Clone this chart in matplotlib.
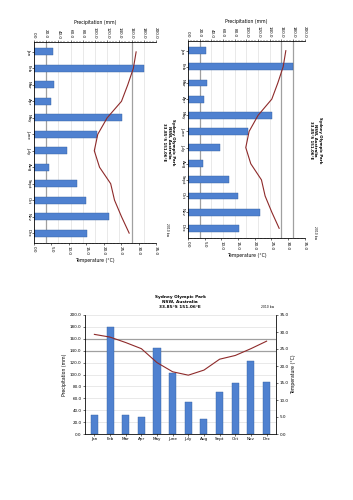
import numpy as np
import matplotlib
matplotlib.use('Agg')
import matplotlib.pyplot as plt
from matplotlib.ticker import MultipleLocator

# Climate data (Sydney Olympic Park)
months = ['Jan', 'Feb', 'Mar', 'Apr', 'May', 'June',
          'July', 'Aug', 'Sept', 'Oct', 'Nov', 'Dec']
precip = [31.5, 180.5, 32.5, 28.0, 144.5, 103.0,
          54.5, 25.0, 71.0, 85.5, 123.0, 87.0]
temp = [29.3, 28.5, 26.9, 25.1, 21.0, 18.3,
        17.3, 18.8, 22.0, 23.1, 25.1, 27.3]
precip_ticks = np.arange(0, 201, 20)
temp_ticks = np.arange(0, 36, 5)

title = 'Sydney Olympic Park\nNSW, Australia\n33.85°S 151.06°E'
note = '2010 bw'

bar_col = '#4F81D0'
edge_col = '#34609F'
line_col = '#8E2A2A'
fs = 3.0

fig = plt.figure(figsize=(3.53, 5.0), dpi=100)
fig.patch.set_facecolor('white')

pos = np.arange(len(months))


def style_ticks(axis):
    axis.tick_params(labelsize=fs, length=1.5, width=0.4, pad=1)


###########################
# ROTATED (sideways) COPY #
###########################
def rotated_chart(rect, title_x, title_y, note_x, note_y, dark):
    ax = fig.add_axes(rect)
    ax2 = ax.twiny()
    for v in precip_ticks:
        ax.axvline(v, color='#a0a0a0' if v in dark else '#d8d8d8',
                   lw=0.9 if v in dark else 0.4, zorder=0)
    ax.barh(pos, precip, height=0.42, color=bar_col, edgecolor=edge_col,
            linewidth=0.3, zorder=2)
    ax.set_xlim(0, 200)
    ax.set_ylim(11.6, -0.6)
    ax.xaxis.tick_top()
    ax.xaxis.set_label_position('top')
    ax.set_xticks(precip_ticks)
    ax.set_xticklabels(['%.1f' % v for v in precip_ticks], rotation=-90)
    ax.xaxis.set_minor_locator(MultipleLocator(5))
    ax.tick_params(axis='x', which='minor', length=0.8, width=0.3)
    ax.set_yticks(pos)
    ax.set_yticklabels(months, rotation=-90, va='center')
    ax.set_xlabel('Precipitation (mm)', fontsize=fs + 0.3, labelpad=2)
    style_ticks(ax)
    ax.spines['right'].set_visible(False)
    for s in ax.spines.values():
        s.set_linewidth(0.4)

    ax2.plot(temp, pos, color=line_col, lw=0.8, zorder=3)
    ax2.set_xlim(0, 35)
    ax2.xaxis.tick_bottom()
    ax2.xaxis.set_label_position('bottom')
    ax2.set_xticks(temp_ticks)
    ax2.set_xticklabels(['%.1f' % v for v in temp_ticks], rotation=-90)
    ax2.xaxis.set_minor_locator(MultipleLocator(1))
    ax2.tick_params(axis='x', which='minor', length=0.8, width=0.3)
    ax2.set_xlabel('Temperature (°C)', fontsize=fs + 0.3, labelpad=2)
    style_ticks(ax2)
    ax2.spines['right'].set_visible(False)
    for s in ax2.spines.values():
        s.set_linewidth(0.4)

    fig.text(title_x, title_y, title, rotation=-90, ha='center', va='center',
             multialignment='center', fontsize=fs - 0.2, fontweight='bold',
             linespacing=1.2)
    fig.text(note_x, note_y, note, rotation=-90, ha='center', va='center',
             fontsize=fs - 0.8)


rotated_chart([0.0963, 0.514, 0.3456, 0.402], 0.478, 0.715, 0.473, 0.54,
              dark=[20, 160])
rotated_chart([0.5326, 0.524, 0.331, 0.394], 0.893, 0.72, 0.893, 0.535,
              dark=[20, 160, 180])

##################
# UPRIGHT CHART  #
##################
ax = fig.add_axes([0.2408, 0.132, 0.541, 0.238])
ax2 = ax.twinx()
for v in precip_ticks:
    ax.axhline(v, color='#a0a0a0' if v in [140, 160] else '#d8d8d8',
               lw=0.9 if v in [140, 160] else 0.4, zorder=0)
ax.bar(pos, precip, width=0.45, color=bar_col, edgecolor=edge_col,
       linewidth=0.3, zorder=2)
ax.set_xlim(-0.6, 11.6)
ax.set_ylim(0, 200)
ax.set_xticks(pos)
ax.set_xticklabels(months)
ax.set_yticks(precip_ticks)
ax.set_yticklabels(['%.1f' % v for v in precip_ticks])
ax.set_ylabel('Precipitation (mm)', fontsize=fs + 0.3, labelpad=2)
style_ticks(ax)
ax.spines['top'].set_visible(False)
for s in ax.spines.values():
    s.set_linewidth(0.4)

ax2.plot(pos, temp, color=line_col, lw=0.8, zorder=3)
ax2.set_ylim(0, 35)
ax2.set_yticks(temp_ticks)
ax2.set_yticklabels(['%.1f' % v for v in temp_ticks])
ax2.set_ylabel('Temperature (°C)', fontsize=fs + 0.3, labelpad=2)
style_ticks(ax2)
ax2.spines['top'].set_visible(False)
for s in ax2.spines.values():
    s.set_linewidth(0.4)

fig.text(0.51, 0.396, title, ha='center', va='center',
         multialignment='center', fontsize=fs + 0.1, fontweight='bold',
         linespacing=1.2)
fig.text(0.759, 0.386, note, ha='center', va='center', fontsize=fs - 0.8)

fig.savefig('out.png', dpi=100, facecolor='white')
